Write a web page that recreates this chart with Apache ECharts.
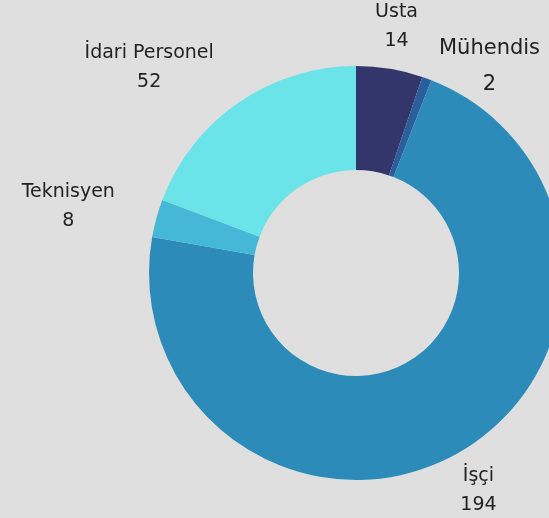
<!DOCTYPE html>
<html lang="tr">
<head>
    <meta charset="UTF-8">
    <script src="https://cdn.jsdelivr.net/npm/echarts@6/dist/echarts.min.js"></script>
    <title>Personel Dağılımı</title>
    <style>
        html, body { margin: 0; padding: 0; background: #dfdfdf; }
    </style>
</head>
<body>
<div id="main" style="width: 549px;height:518px;"></div>
<script type="text/javascript">
        var names = ['Usta', 'Mühendis', 'İşçi', 'Teknisyen', 'İdari Personel'];
        var values = [14, 2, 194, 8, 52];
        var colors = ['#32366b', '#2b5f9c', '#2d8bba', '#44b8d6', '#6ae4e9'];

        var cx = 356, cy = 273, labelR = 250;
        var total = 0;
        values.forEach(function (v) { total += v; });
        // mid angle of each slice, clockwise from 12 o'clock
        var midAngles = [];
        var acc = 0;
        values.forEach(function (v) {
            midAngles.push((acc + v / 2) / total * Math.PI * 2);
            acc += v;
        });

        var myChart = echarts.init(document.getElementById('main'));
        var pieData = names.map(function (n, i) {
            var item = { name: n, value: values[i], itemStyle: { color: colors[i] } };
            // the thin slice label is drawn a bit larger and pushed aside
            if (values[i] / total < 0.02) {
                item.label = { fontSize: 21, lineHeight: 36 };
            }
            return item;
        });

        option = {
            backgroundColor: '#dfdfdf',
            series: [{
                type: 'pie',
                center: [cx, cy],
                radius: [103, 207],
                startAngle: 90,
                clockwise: true,
                avoidLabelOverlap: false,
                data: pieData,
                label: {
                    show: true,
                    position: 'outside',
                    formatter: '{b}\n{c}',
                    color: '#222',
                    fontFamily: 'DejaVu Sans',
                    fontSize: 19,
                    lineHeight: 29,
                    align: 'center'
                },
                labelLine: { show: false },
                labelLayout: function (params) {
                    var i = params.dataIndex;
                    var a = midAngles[i];
                    var x = cx + labelR * Math.sin(a);
                    var y = cy - labelR * Math.cos(a);
                    if (Math.sin(a) < -0.3) {
                        x -= params.labelRect.width / 2;
                    }
                    if (values[i] / total < 0.02) {
                        x += 48; y += 28;
                    }
                    return { x: x, y: y, align: 'center', verticalAlign: 'middle' };
                },
                emphasis: { scale: false }
            }]
        };

        myChart.setOption(option);
    </script>
</body>
</html>
